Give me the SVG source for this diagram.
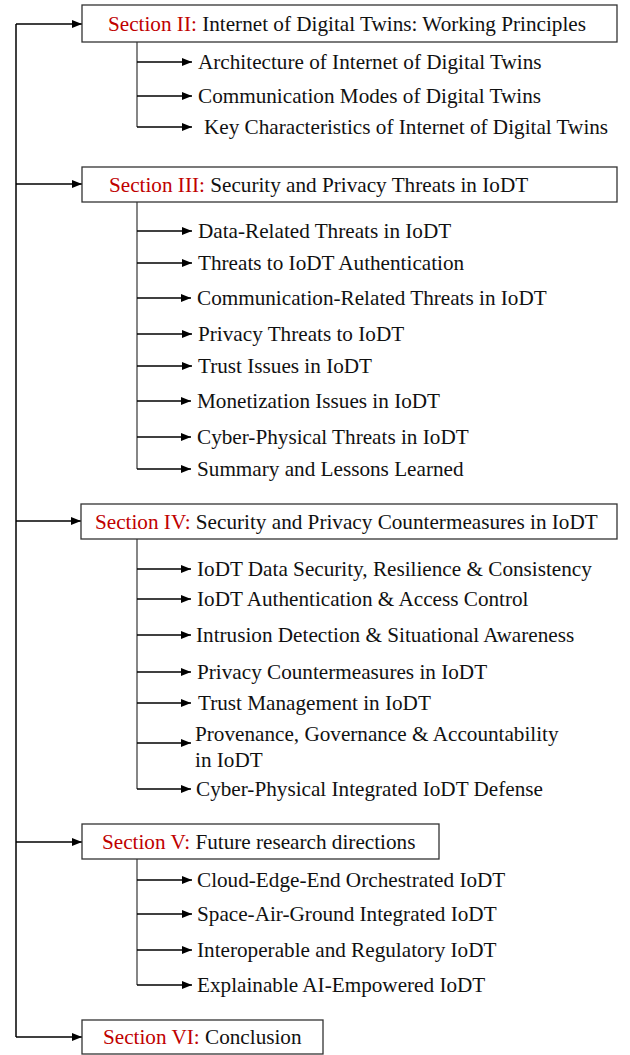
<svg xmlns="http://www.w3.org/2000/svg" width="630" height="1055" viewBox="0 0 630 1055">
<defs>
<marker id="ah" viewBox="0 0 10 8" refX="10" refY="4" markerWidth="10" markerHeight="8" markerUnits="userSpaceOnUse" orient="auto">
<path d="M0,0 L10,4 L0,8 Z" fill="#000"/>
</marker>
<style>
.box{fill:#fff;stroke:#333;stroke-width:1.3}
.t{font-family:"Liberation Serif","Times New Roman",serif;font-size:21.2px;fill:#111}
.r{fill:#c00000}
.main{stroke:#000;stroke-width:1.5;fill:none}
.br{stroke:#444;stroke-width:1.3;fill:none}
.arr{stroke:#000;stroke-width:1.3;fill:none;marker-end:url(#ah)}
</style>
</defs>
<rect width="630" height="1055" fill="#fff"/>
<g id="connectors">
<path class="main" d="M16,24 V1037"/>
<path class="arr" d="M16,24 H82"/>
<path class="arr" d="M16,184 H82"/>
<path class="arr" d="M16,521 H81"/>
<path class="arr" d="M16,842 H82"/>
<path class="arr" d="M16,1037 H82"/>
<path class="br" d="M137,42 V127"/>
<path class="arr" d="M137,62 H192"/>
<path class="arr" d="M137,96 H192"/>
<path class="arr" d="M137,127 H192"/>
<path class="br" d="M137,202 V469"/>
<path class="arr" d="M137,231 H192"/>
<path class="arr" d="M137,263 H192"/>
<path class="arr" d="M137,298 H191"/>
<path class="arr" d="M137,334 H192"/>
<path class="arr" d="M137,366 H192"/>
<path class="arr" d="M137,401 H191"/>
<path class="arr" d="M137,437 H191"/>
<path class="arr" d="M137,469 H191"/>
<path class="br" d="M137,539 V789"/>
<path class="arr" d="M137,569 H191"/>
<path class="arr" d="M137,599 H191"/>
<path class="arr" d="M137,635 H191"/>
<path class="arr" d="M137,672 H191"/>
<path class="arr" d="M137,703 H191"/>
<path class="arr" d="M137,743 H191"/>
<path class="arr" d="M137,789 H191"/>
<path class="br" d="M137,859 V985"/>
<path class="arr" d="M137,880 H192"/>
<path class="arr" d="M137,914 H192"/>
<path class="arr" d="M137,950 H192"/>
<path class="arr" d="M137,985 H192"/>
</g>
<g id="sec2">
<rect class="box" x="82" y="5" width="535" height="37"/>
<text class="t" x="108" y="31"><tspan class="r">Section II:</tspan> Internet of Digital Twins: Working Principles</text>
</g>
<g id="sec2-items">
<text class="t" x="198" y="69">Architecture of Internet of Digital Twins</text>
<text class="t" x="198" y="103">Communication Modes of Digital Twins</text>
<text class="t" x="204" y="134">Key Characteristics of Internet of Digital Twins</text>
</g>
<g id="sec3">
<rect class="box" x="82" y="167" width="535" height="35"/>
<text class="t" x="109" y="192"><tspan class="r">Section III:</tspan> Security and Privacy Threats in IoDT</text>
</g>
<g id="sec3-items">
<text class="t" x="198" y="238">Data-Related Threats in IoDT</text>
<text class="t" x="198" y="270">Threats to IoDT Authentication</text>
<text class="t" x="197" y="305">Communication-Related Threats in IoDT</text>
<text class="t" x="198" y="341">Privacy Threats to IoDT</text>
<text class="t" x="198" y="373">Trust Issues in IoDT</text>
<text class="t" x="197" y="408">Monetization Issues in IoDT</text>
<text class="t" x="197" y="444">Cyber-Physical Threats in IoDT</text>
<text class="t" x="197" y="476">Summary and Lessons Learned</text>
</g>
<g id="sec4">
<rect class="box" x="81" y="504" width="536" height="35"/>
<text class="t" x="95" y="529"><tspan class="r">Section IV:</tspan> Security and Privacy Countermeasures in IoDT</text>
</g>
<g id="sec4-items">
<text class="t" x="197" y="576">IoDT Data Security, Resilience &amp; Consistency</text>
<text class="t" x="197" y="606">IoDT Authentication &amp; Access Control</text>
<text class="t" x="196" y="642">Intrusion Detection &amp; Situational Awareness</text>
<text class="t" x="197" y="679">Privacy Countermeasures in IoDT</text>
<text class="t" x="198" y="710">Trust Management in IoDT</text>
<text class="t" x="195" y="741">Provenance, Governance &amp; Accountability</text>
<text class="t" x="195" y="767">in IoDT</text>
<text class="t" x="196" y="796">Cyber-Physical Integrated IoDT Defense</text>
</g>
<g id="sec5">
<rect class="box" x="82" y="824" width="357" height="35"/>
<text class="t" x="102" y="849"><tspan class="r">Section V:</tspan> Future research directions</text>
</g>
<g id="sec5-items">
<text class="t" x="197" y="887">Cloud-Edge-End Orchestrated IoDT</text>
<text class="t" x="197" y="921">Space-Air-Ground Integrated IoDT</text>
<text class="t" x="197" y="957">Interoperable and Regulatory IoDT</text>
<text class="t" x="197" y="992">Explainable AI-Empowered IoDT</text>
</g>
<g id="sec6">
<rect class="box" x="82" y="1020" width="241" height="34"/>
<text class="t" x="103" y="1044"><tspan class="r">Section VI:</tspan> Conclusion</text>
</g>
</svg>
